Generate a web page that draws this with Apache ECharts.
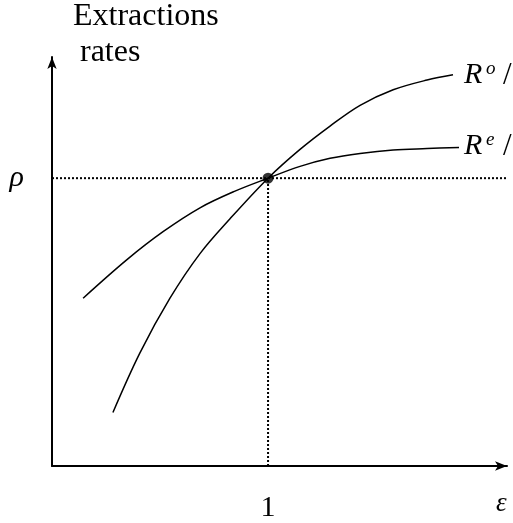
<!DOCTYPE html>
<html>
<head>
<meta charset="utf-8">
<script src="https://cdn.jsdelivr.net/npm/echarts@6/dist/echarts.min.js"></script>
<style>
  html, body { margin: 0; padding: 0; background: #fff; }
  #chart { width: 513px; height: 523px; }
</style>
</head>
<body>
<div id="chart"></div>
<script>
// Curve data (epsilon, extraction rate), rho and epsilon normalised to 1
const reEps = [0.144, 0.347, 0.514, 0.685, 0.847, 1, 1.148, 1.287, 1.426, 1.579, 1.736, 1.884];
const reRate = [0.583, 0.717, 0.814, 0.897, 0.955, 1, 1.041, 1.069, 1.086, 1.098, 1.103, 1.107];
const roEps = [0.282, 0.407, 0.546, 0.685, 0.824, 1, 1.148, 1.287, 1.426, 1.579, 1.736, 1.856];
const roRate = [0.186, 0.393, 0.583, 0.738, 0.859, 1, 1.1, 1.181, 1.253, 1.307, 1.341, 1.359];

// Equilibrium point and reference levels
const eqPoint = [1, 1];
const xTicks = [1];
const yTicks = [1];
const xMax = 2.106;
const yMax = 1.421;
const hLineEnd = 2.134;

const serif = 'Liberation Serif';

const chart = echarts.init(document.getElementById('chart'));

const pairs = (xs, ys) => xs.map((x, i) => [x, ys[i]]);

const option = {
    backgroundColor: '#fff',
    animation: false,
    grid: { left: 52, right: 6, top: 57, bottom: 54 },
    xAxis: {
        type: 'value',
        min: 0,
        max: xMax,
        axisLine: {
            onZero: false,
            symbol: ['none', 'arrow'],
            symbolSize: [7, 12],
            lineStyle: { color: '#000', width: 2 }
        },
        axisTick: { show: false },
        splitLine: { show: false },
        axisLabel: {
            customValues: xTicks,
            formatter: v => String(v),
            margin: 27,
            color: '#000',
            fontFamily: serif,
            fontSize: 30
        }
    },
    yAxis: {
        type: 'value',
        min: 0,
        max: yMax,
        axisLine: {
            show: true,
            onZero: false,
            symbol: ['none', 'arrow'],
            symbolSize: [7, 12],
            lineStyle: { color: '#000', width: 2 }
        },
        axisTick: { show: false },
        splitLine: { show: false },
        axisLabel: {
            customValues: yTicks,
            formatter: () => 'ρ',
            margin: 28,
            color: '#000',
            fontFamily: serif,
            fontStyle: 'italic',
            fontSize: 30
        }
    },
    series: [
        {
            // horizontal dotted line at rho
            type: 'line',
            data: [[0, eqPoint[1]], [hLineEnd, eqPoint[1]]],
            symbol: 'none',
            clip: false,
            lineStyle: { color: '#000', width: 2, type: [2, 2] }
        },
        {
            // vertical dotted line at epsilon = 1
            type: 'line',
            data: [[eqPoint[0], 0], [eqPoint[0], eqPoint[1]]],
            symbol: 'none',
            lineStyle: { color: '#000', width: 2, type: [2, 2] }
        },
        {
            name: 'Re',
            type: 'line',
            data: pairs(reEps, reRate),
            smooth: 0.35,
            symbol: 'none',
            lineStyle: { color: '#000', width: 1.5 }
        },
        {
            name: 'Ro',
            type: 'line',
            data: pairs(roEps, roRate),
            smooth: 0.35,
            symbol: 'none',
            lineStyle: { color: '#000', width: 1.5 }
        },
        {
            type: 'scatter',
            data: [eqPoint],
            symbolSize: 11,
            itemStyle: { color: '#000' }
        }
    ],
    graphic: [
        {
            type: 'text', left: 73, top: 1,
            style: { text: 'Extractions', font: '32px "Liberation Serif"', fill: '#000' }
        },
        {
            type: 'text', left: 80, top: 37,
            style: { text: 'rates', font: '32px "Liberation Serif"', fill: '#000' }
        },
        {
            type: 'text', left: 496, top: 490,
            style: { text: 'ε', font: 'italic 27px "Liberation Serif"', fill: '#000' }
        },
        {
            type: 'text', left: 464, top: 60,
            style: { text: 'R', font: 'italic 30px "Liberation Serif"', fill: '#000' }
        },
        {
            type: 'text', left: 486, top: 59,
            style: { text: 'o', font: 'italic 19px "Liberation Serif"', fill: '#000' }
        },
        {
            type: 'text', left: 503, top: 60,
            style: { text: '/', font: '31px "Liberation Serif"', fill: '#000' }
        },
        {
            type: 'text', left: 464, top: 131,
            style: { text: 'R', font: 'italic 30px "Liberation Serif"', fill: '#000' }
        },
        {
            type: 'text', left: 486, top: 130,
            style: { text: 'e', font: 'italic 19px "Liberation Serif"', fill: '#000' }
        },
        {
            type: 'text', left: 503, top: 131,
            style: { text: '/', font: '31px "Liberation Serif"', fill: '#000' }
        }
    ]
};

chart.setOption(option);
</script>
</body>
</html>
